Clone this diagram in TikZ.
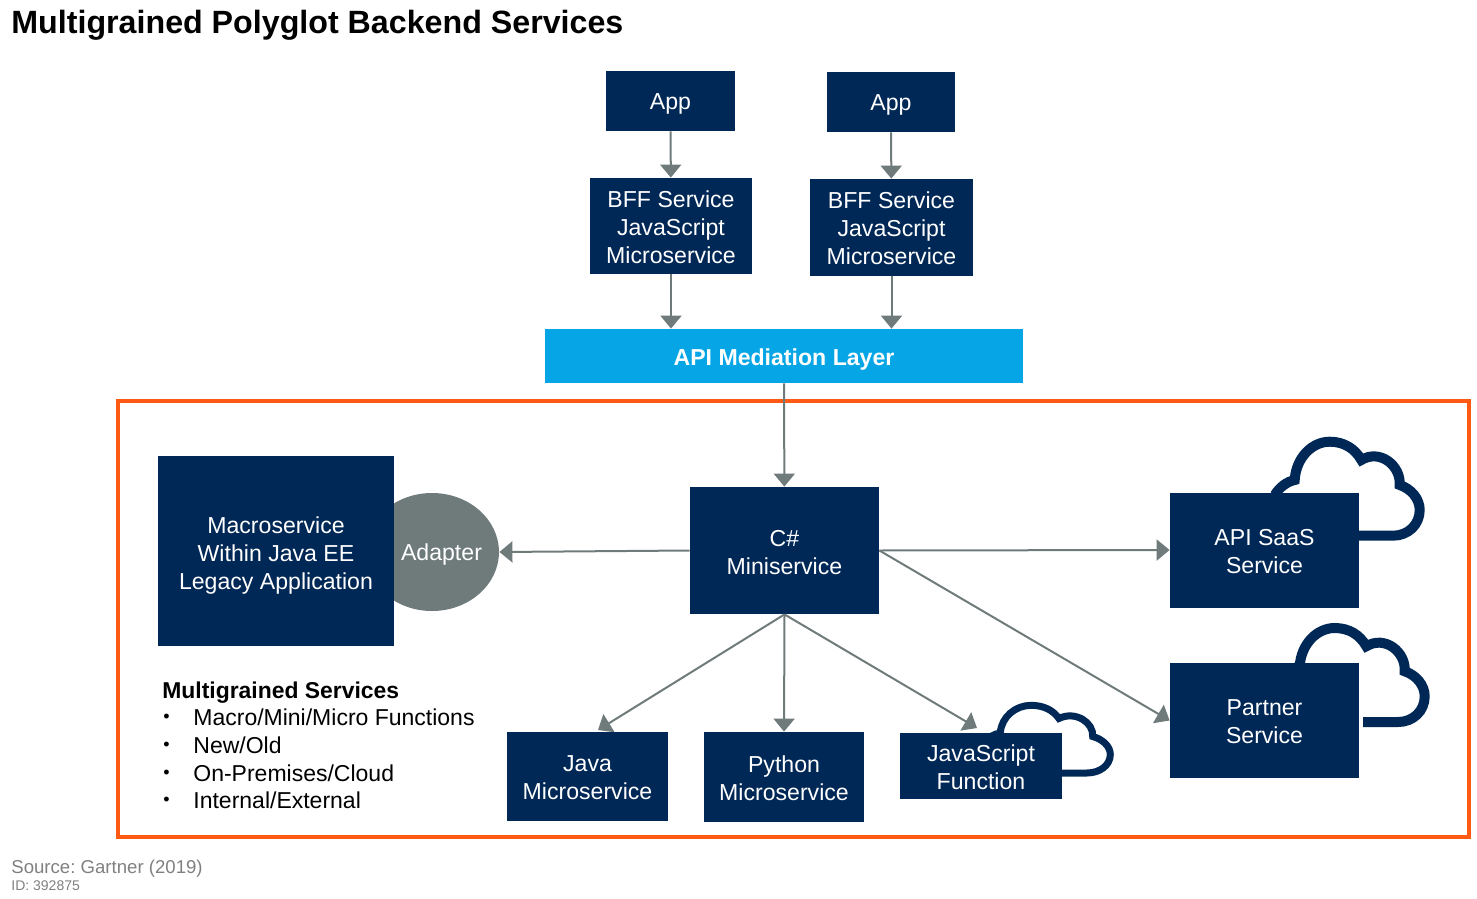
\documentclass[tikz,border=0pt]{standalone}
\usepackage{fontspec}
\setmainfont{Liberation Sans}
\usetikzlibrary{arrows.meta}
\definecolor{navy}{HTML}{002856}
\definecolor{slate}{HTML}{6F7B7B}
\definecolor{skyblue}{HTML}{06A6E6}
\definecolor{frameorange}{HTML}{FF5A14}
\tikzset{
  nudge/.style={execute at begin node={\rule{0pt}{#1}}},
  box/.style={fill=navy,text=white,inner sep=0pt,align=center,
    font=\fontsize{11.55}{14}\selectfont},
  link/.style={draw=slate,line width=1pt,-{Triangle[length=6.5pt,width=10.5pt]}},
  legend/.style={anchor=west,inner sep=0pt,font=\fontsize{11.5}{14}\selectfont},
  cloudicon/.pic={
    \draw[navy,line width=\pgfkeysvalueof{/tikz/cloudwidth}]
      (-83.3,-40.7) .. controls (-78,-49) and (-71,-54) .. (-63.3,-55.7)
      .. controls (-62,-78) and (-46,-94) .. (-28.3,-94)
      .. controls (-14,-94) and (-3,-87) .. (3.3,-75.7)
      .. controls (22,-87) and (43,-70) .. (41.7,-50.7)
      .. controls (53,-47) and (61.7,-37) .. (61.7,-25.7)
      .. controls (61.7,-11) and (50,0) .. (35,0) -- (0,0);
  },
  cloudwidth/.initial=5pt
}
\begin{document}
\frenchspacing
\begin{tikzpicture}[x=0.5pt,y=-0.5pt]
  \useasboundingbox (0,0) rectangle (1477,899);
  \node[anchor=west,inner sep=0pt,font=\fontsize{16.1}{18}\selectfont\bfseries] (title) at (11,25) {Multigrained Polyglot Backend Services};
  % clouds sit behind the boxes
  \pic at (1358,535.7) {cloudicon};
  \pic at (1363,722) {cloudicon};
  \pic[xscale=0.88,yscale=0.72,cloudwidth=3.5pt] at (1056,773) {cloudicon};
  \draw[frameorange,line width=2pt] (118,401) rectangle (1469,837);
  \node[box,nudge=11.3pt,minimum width=64.5pt,minimum height=30pt] (app1) at (670.5,101) {App};
  \node[box,nudge=11.3pt,minimum width=64pt,minimum height=30pt] (app2) at (891,102) {App};
  \node[box,nudge=37.3pt,minimum width=81pt,minimum height=48pt] (bff1) at (671,226) {BFF Service\\JavaScript\\Microservice};
  \node[box,nudge=37.3pt,minimum width=81.5pt,minimum height=48.5pt] (bff2) at (891.5,227.5) {BFF Service\\JavaScript\\Microservice};
  \node[box,nudge=12.3pt,fill=skyblue,minimum width=239pt,minimum height=27pt,font=\fontsize{11.55}{14}\selectfont\bfseries] (api) at (784,356) {API Mediation Layer};
  \node[circle,fill=slate,inner sep=0pt,minimum size=59pt,xscale=1.135] (adaptershape) at (432,552) {};
  \node[box,nudge=40.7pt,minimum width=118pt,minimum height=95pt] (macro) at (276,551) {Macroservice\\Within Java EE\\Legacy Application};
  \node[text=white,inner sep=0pt,font=\fontsize{11.55}{14}\selectfont] (adapter) at (441.5,555) {Adapter};
  \node[box,nudge=24.3pt,minimum width=94.5pt,minimum height=63.5pt] (csharp) at (784.5,550.5) {C\#\\Miniservice};
  \node[box,nudge=23.3pt,minimum width=94.5pt,minimum height=57.5pt] (saas) at (1264.5,550) {API SaaS\\Service};
  \node[box,nudge=23.3pt,minimum width=94.5pt,minimum height=57.5pt] (partner) at (1264.5,720.5) {Partner\\Service};
  \node[box,nudge=23.3pt,minimum width=80.5pt,minimum height=44.5pt] (java) at (587.5,776.5) {Java\\Microservice};
  \node[box,nudge=23.3pt,minimum width=80pt,minimum height=45pt] (python) at (784,777) {Python\\Microservice};
  \node[box,nudge=23.3pt,minimum width=81pt,minimum height=33pt] (jsfun) at (981,766) {JavaScript\\Function};
  \coordinate (javatip) at (598,730);
  \coordinate (jstip) at (977,728);
  % connectors
  \draw[link] (app1) -- (bff1);
  \draw[link] (app2) -- (bff2);
  \draw[link] (bff1) -- (bff1.south |- api.north);
  \draw[link] (bff2) -- (bff2.south |- api.north);
  \draw[link] (api) -- (csharp);
  \draw[link] (csharp.west) -- (adaptershape.east);
  \draw[link] (csharp.east) -- (saas.west);
  \draw[link] (csharp.east) -- (partner.west);
  \draw[link] (csharp.south) -- (javatip);
  \draw[link] (csharp.south) -- (python.north);
  \draw[link] (csharp.south) -- (jstip);
  % legend
  \node[legend,font=\fontsize{11.45}{14}\selectfont\bfseries] (legendhead) at (162,693) {Multigrained Services};
  \foreach \ytick/\itemtext in {717/Macro\slash Mini\slash Micro Functions,745/New\slash Old,773/On-Premises\slash Cloud,800/Internal\slash External} {
    \node[legend,font=\fontsize{9}{11}\selectfont] (bullet\ytick) at (163,\ytick+1) {•};
    \node[legend] (item\ytick) at (193,\ytick) {\itemtext};
  }
  \node[anchor=west,inner sep=0pt,text=gray,font=\fontsize{9.3}{12}\selectfont] (source) at (11,869) {Source: Gartner (2019)};
  \node[anchor=west,inner sep=0pt,text=gray,font=\fontsize{7}{9}\selectfont] (docid) at (11,886) {ID: 392875};
\end{tikzpicture}
\end{document}
